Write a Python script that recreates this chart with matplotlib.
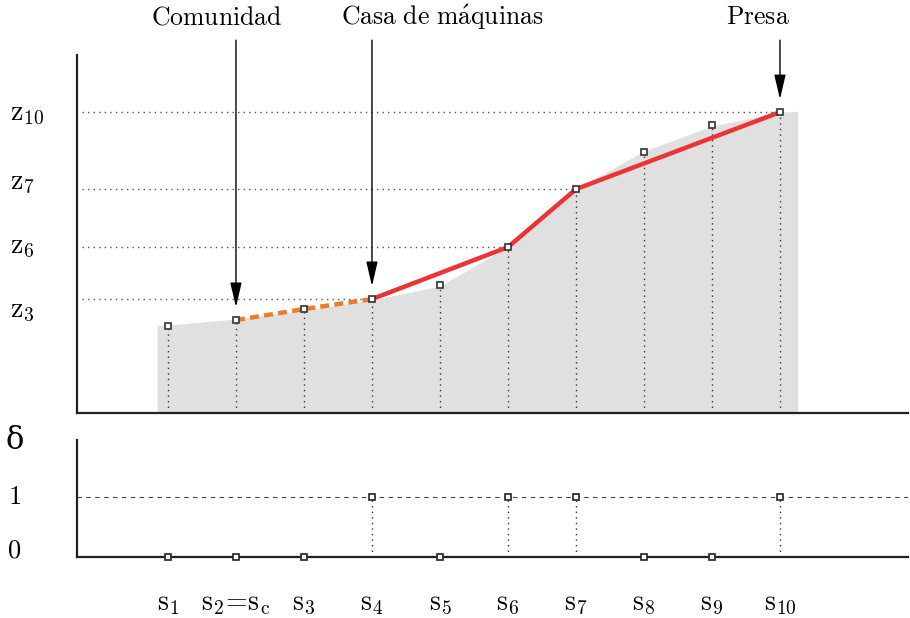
import matplotlib.pyplot as plt
from matplotlib import transforms

plt.rcParams['mathtext.fontset'] = 'cm'
plt.rcParams['font.family'] = 'serif'
plt.rcParams['font.serif'] = ['cmr10', 'DejaVu Serif']
plt.rcParams['axes.formatter.use_mathtext'] = True

# --- data ---
stations = [1, 2, 3, 4, 5, 6, 7, 8, 9, 10]
station_labels = [r'$\mathrm{s}_1$', r'$\mathrm{s}_2\!=\!\mathrm{s}_\mathrm{c}$', r'$\mathrm{s}_3$',
                  r'$\mathrm{s}_4$', r'$\mathrm{s}_5$', r'$\mathrm{s}_6$', r'$\mathrm{s}_7$',
                  r'$\mathrm{s}_8$', r'$\mathrm{s}_9$', r'$\mathrm{s}_{10}$']
elev = [87, 93, 104, 114, 128, 166, 224, 261, 288, 301]
terrain_x = [0.84, 1, 2, 3, 4, 5, 6, 7, 8, 9, 10, 10.26]
terrain_z = [88, 88, 94, 103, 113, 127, 166, 224, 262, 287, 301, 302]
delta = [0, 0, 0, 1, 0, 1, 1, 0, 0, 1]

# chosen stations (penstock breaks)
pipe_idx = [3, 5, 6, 9]        # s4, s6, s7, s10
canal_idx = [1, 2, 3]          # s2 -> s4
z_line_idx = [3, 5, 6, 9]
z_label_text = [r'$\mathrm{z}_3$', r'$\mathrm{z}_6$', r'$\mathrm{z}_7$', r'$\mathrm{z}_{10}$']
z_label_offset = [-12, 0, 6, -2]

annot = [(1, r'$\mathrm{Comunidad}$', 1.71),
         (3, r'$\mathrm{Casa\ de\ m\acute{a}quinas}$', 5.03),
         (9, r'$\mathrm{Presa}$', 9.68)]

fig = plt.figure(figsize=(9.1, 6.18), dpi=100)
ax = fig.add_axes([0.0846, 0.3317, 0.913, 0.579])
ax2 = fig.add_axes([0.0846, 0.0987, 0.913, 0.1893])

xlim = (-0.338, 11.88)

# --- top panel: terrain profile ---
ax.fill_between(terrain_x, 0, terrain_z, color='#e0e0e0', lw=0, zorder=1)
for x, z in zip(stations, elev):
    ax.plot([x, x], [0, z], color='#333333', ls=(0, (1, 3)), lw=1.0, zorder=2)
for i in z_line_idx:
    ax.plot([xlim[0] + 0.08, stations[i]], [elev[i], elev[i]], color='#555555',
            ls=(0, (1, 3)), lw=1.0, zorder=2)
ax.plot([stations[i] for i in canal_idx], [elev[i] for i in canal_idx],
        color='#f07a2a', lw=3.2, ls=(0, (2, 1.2)), zorder=3)
ax.plot([stations[i] for i in pipe_idx], [elev[i] for i in pipe_idx],
        color='#ec3434', lw=3.2, zorder=3, solid_capstyle='butt')
ax.plot(stations, elev, ls='none', marker='s', ms=5, mfc='white', mec='#333333',
        mew=1.2, zorder=4)

lab_tr = transforms.blended_transform_factory(fig.transFigure, ax.transData)
for i, label, off in zip(z_line_idx, z_label_text, z_label_offset):
    ax.text(0.011, elev[i] + off, label, transform=lab_tr, fontsize=20,
            ha='left', va='center')

for i, label, tx in annot:
    ax.annotate('', xy=(stations[i], elev[i] + 13), xytext=(stations[i], 373),
                arrowprops=dict(arrowstyle='-|>,head_length=1.5,head_width=0.35',
                                color='black', lw=1.0, shrinkA=0, shrinkB=0),
                annotation_clip=False)
    ax.text(tx, 396, label, fontsize=18.5, ha='center', va='center', clip_on=False)

ax.set_xlim(*xlim)
ax.set_ylim(0, 358)
ax.set_xticks([])
ax.set_yticks([])
for s in ['top', 'right']:
    ax.spines[s].set_visible(False)
for s in ['left', 'bottom']:
    ax.spines[s].set_linewidth(1.6)
    ax.spines[s].set_color('#222222')

# --- bottom panel: delta ---
ax2.axhline(1, color='#444444', ls=(0, (4, 4)), lw=0.8, zorder=1)
for x, d in zip(stations, delta):
    if d:
        ax2.plot([x, x], [0, d], color='#333333', ls=(0, (1, 3)), lw=1.0, zorder=2)
ax2.plot(stations, delta, ls='none', marker='s', ms=5, mfc='white', mec='#222222',
         mew=1.2, zorder=4, clip_on=False)
ax2.set_xlim(*xlim)
ax2.set_ylim(0, 1.95)
ax2.set_xticks(stations)
ax2.set_xticklabels(station_labels, fontsize=20)
ax2.tick_params(axis='x', length=0, pad=24)
ax2.set_yticks([])
lab_tr2 = transforms.blended_transform_factory(fig.transFigure, ax2.transData)
ax2.text(0.016, 1.0, r'$\mathrm{1}$', transform=lab_tr2, fontsize=19, ha='center', va='center')
ax2.text(0.016, 0.1, r'$\mathrm{0}$', transform=lab_tr2, fontsize=19, ha='center', va='center')
ax2.text(0.016, 1.95, 'δ', transform=lab_tr2, fontsize=22, ha='center', va='center',
         family='DejaVu Serif')
for s in ['top', 'right']:
    ax2.spines[s].set_visible(False)
for s in ['left', 'bottom']:
    ax2.spines[s].set_linewidth(1.6)
    ax2.spines[s].set_color('#222222')

fig.savefig('out.png', dpi=100)
